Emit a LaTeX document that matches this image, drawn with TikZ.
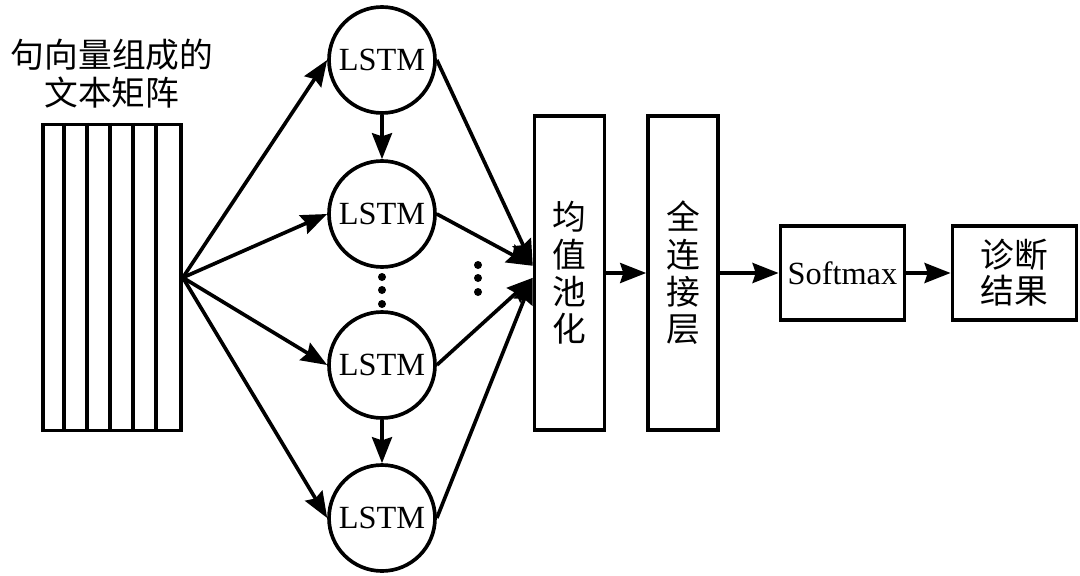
\documentclass[tikz,border=0pt]{standalone}
\usepackage{fontspec}
\setmainfont{Liberation Serif}
\newfontfamily\cjk{Noto Sans CJK SC}
\usetikzlibrary{arrows.meta}
\tikzset{
	lstm/.style={circle, draw, line width=2.6pt, minimum size=2.65cm, inner sep=0pt, font=\fontsize{23}{24}\selectfont},
	layer/.style={rectangle, draw, line width=2.6pt, minimum width=1.75cm, minimum height=7.85cm, inner sep=0pt, align=center, font=\cjk\fontsize{24}{26.5}\selectfont},
	outbox/.style={rectangle, draw, line width=2.6pt, minimum width=3.1cm, minimum height=2.35cm, inner sep=0pt, align=center},
	link/.style={-{Stealth[length=6.5mm,width=5mm,inset=0.8mm]}, line width=2.6pt},
	dot/.style={circle, fill, inner sep=0pt, minimum size=0.2cm}
}

\begin{document}
\begin{tikzpicture}
		\useasboundingbox (0,0) rectangle (27,-14.375);

		% Define nodes
		\node[align=center, font=\cjk\fontsize{24}{27}\selectfont, xshift=2.8cm, yshift=-1.85cm] (T) {句向量组成的\\文本矩阵};
		\node[draw, line width=2.6pt, minimum width=3.45cm, minimum height=7.65cm, inner sep=0pt, xshift=2.8cm, yshift=-6.94cm] (M) {};
		\node[lstm, xshift=9.55cm, yshift=-1.5cm] (L1) {LSTM};
		\node[lstm, xshift=9.55cm, yshift=-5.35cm] (L2) {LSTM};
		\node[lstm, xshift=9.55cm, yshift=-9.125cm] (L3) {LSTM};
		\node[lstm, xshift=9.55cm, yshift=-12.95cm] (L4) {LSTM};
		\node[layer, xshift=14.24cm, yshift=-6.825cm] (P) {均\\值\\池\\化};
		\node[layer, xshift=17.075cm, yshift=-6.825cm] (F) {全\\连\\接\\层};
		\node[outbox, font=\fontsize{23}{25}\selectfont, xshift=21.06cm, yshift=-6.825cm] (S) {Softmax};
		\node[outbox, font=\cjk\fontsize{24}{25.5}\selectfont, xshift=25.36cm, yshift=-6.825cm] (R) {诊断\\结果};
		\coordinate (Pu) at ([yshift=0.18cm]P.west);
		\coordinate (Pd) at ([yshift=-0.12cm]P.west);

		% Columns of the matrix
		\foreach \i in {1,...,5}
			\draw[line width=2.6pt] ([xshift=\i*0.575cm]M.north west) -- ([xshift=\i*0.575cm]M.south west);

		% Dots
		\foreach \y in {-6.925,-7.25,-7.6}
			\node[dot] at (9.55,\y) {};
		\foreach \y in {-6.625,-6.95,-7.3}
			\node[dot] at (11.95,\y) {};

		% Connect the nodes
		\foreach \l in {L1,L2,L3,L4}
			\draw[link] (M.east) -- (\l.west);
		\draw[link] (L1) -- (L2);
		\draw[link] (L3) -- (L4);
		\draw[link] (L1.east) -- (Pu);
		\draw[link] (L2.east) -- (Pu);
		\draw[link] (L3.east) -- (Pd);
		\draw[link] (L4.east) -- (Pd);
		\draw[link] (P) -- (F);
		\draw[link] (F) -- (S);
		\draw[link] (S) -- (R);
	\end{tikzpicture}
\end{document}
